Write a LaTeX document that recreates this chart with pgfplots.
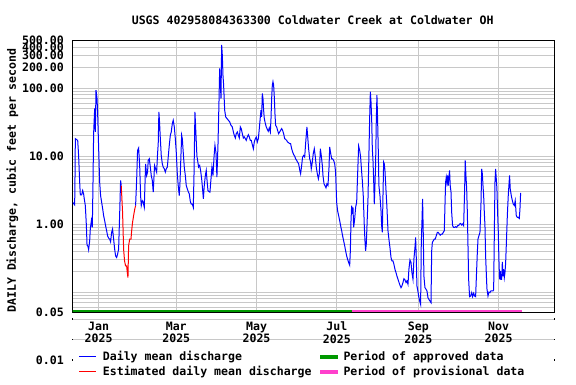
\documentclass[border=0pt]{standalone}
\usepackage{pgfplots}
\usepackage{pgfplotstable}
\pgfplotsset{compat=1.18}
\usepackage{fontspec}
\setmainfont{DejaVu Sans Mono}[BoldFont={DejaVu Sans Mono Bold}]
\setmonofont{DejaVu Sans Mono}[BoldFont={DejaVu Sans Mono Bold}]
\definecolor{gridgray}{RGB}{200,200,200}
\definecolor{appgreen}{RGB}{0,153,0}
\definecolor{provpink}{RGB}{255,64,204}
\definecolor{lineblue}{RGB}{0,0,255}
\definecolor{linered}{RGB}{255,0,0}
\newcommand{\f}{\fontsize{11.6}{12.7}\selectfont\bfseries}

\pgfplotstableread{
d v
-19.7 2.09
-18.2 1.91
-17.9 5.8
-17.7 18.0
-15.9 17.0
-15.2 10.2
-14.4 4.13
-13.9 2.68
-12.9 2.68
-12.1 3.11
-11.4 2.77
-10.9 2.34
-10.1 1.87
-9.3 0.945
-8.8 0.49
-8.1 0.47
-7.6 0.42
-6.8 0.567
-6.3 0.86
-5.5 1.12
-4.8 0.893
-4.3 3.68
-3.8 21.3
-3.0 50
-2.5 22.6
-2.0 93
-1.2 70
-0.7 39.8
0 13.6
0.8 4.13
1.5 2.62
2.3 2.09
3.1 1.67
3.8 1.33
4.6 1.12
5.3 0.945
6.1 0.797
6.8 0.673
7.6 0.621
8.4 0.600
9.1 0.548
9.9 0.753
10.6 0.844
11.4 0.600
12.2 0.427
12.9 0.340
13.7 0.322
14.4 0.360
15.2 0.427
16.0 1.41
16.7 4.37
17.2 3.68
}\blueone

\pgfplotstableread{
d v
17.2 3.68
17.7 2.34
18.2 1.49
19.0 0.427
19.7 0.287
20.5 0.242
21.3 0.242
21.8 0.193
22.3 0.163
22.8 0.479
23.6 0.600
24.6 0.600
25.1 0.797
25.8 1.06
26.6 1.33
27.4 1.63
28.1 1.87
}\redest

\pgfplotstableread{
d v
28.1 1.87
28.9 4.37
29.6 12.1
30.4 13.1
31.2 7.27
31.9 2.62
32.4 1.87
33.2 2.2
33.9 2.09
34.7 1.76
35.2 3.68
35.7 7.69
36.5 5.17
37.2 5.8
37.7 8.62
38.5 9.12
39.3 6.87
40.0 5.17
40.8 4.37
41.5 2.94
42.0 4.62
42.5 7.27
43.3 6.49
44.1 5.8
44.8 10.8
45.3 15.2
45.8 44.6
46.3 31.7
46.9 18.0
47.6 10.2
48.4 7.69
49.1 6.87
49.9 6.49
50.7 5.8
51.4 6.49
52.2 6.87
52.9 9.66
53.7 14.4
54.5 20.2
55.2 22.6
56.0 30.0
56.7 33.6
57.5 26.8
58.3 18.0
59.0 11.4
59.8 5.48
60.5 3.68
61.3 2.62
61.8 3.90
62.3 7.27
63.1 20.2
63.6 18.0
64.3 11.4
65.1 6.87
65.9 5.17
66.6 3.68
67.4 3.29
68.1 3.00
68.9 2.77
69.7 2.14
70.4 1.97
71.2 1.97
71.96 1.76
72.5 5.48
73.2 44.6
74.0 20.2
74.7 10.0
76.0 6.87
76.8 7.27
77.5 6.13
78.3 4.62
79.1 3.11
79.6 2.34
80.3 3.68
81.1 5.17
81.8 6.13
82.3 4.62
83.1 3.11
83.9 3.00
84.6 2.94
85.4 4.62
86.1 6.87
86.9 5.17
87.7 9.66
88.4 14.4
89.2 11.1
89.9 4.89
90.7 14.4
91.5 66.3
92.0 195
92.5 117
93.0 70.2
93.5 431
94.0 306
94.5 155
95.0 110
95.8 47.2
96.6 37.6
97.5 35.6
98.6 33.6
99.6 31.8
100.6 28.3
101.6 26.8
102.4 22.6
103.1 20.2
103.9 18.4
104.6 21.3
105.4 22.6
106.2 20.2
106.9 18.4
107.7 26.8
108.4 25.3
109.2 21.3
110.0 18.4
110.7 19.1
111.5 18.0
112.2 17.0
113.0 19.1
113.8 20.6
114.5 19.1
115.3 17.0
116.0 17.0
116.8 14.7
117.6 12.8
118.3 16.1
119.1 18.0
119.8 19.1
120.6 16.1
121.4 18.0
122.1 25.3
122.9 37.6
123.4 47.2
123.9 37.6
124.4 83.2
124.9 70.2
125.4 47.2
125.9 35.6
126.7 30.0
127.4 26.8
128.2 24.7
128.9 23.1
129.7 25.9
130.5 22.6
131.0 35.6
131.5 70.2
132.0 110
132.5 124
133.0 110
133.5 74.3
134.0 42.2
134.5 28.3
135.3 26.8
136.0 23.9
136.8 21.3
137.6 22.6
138.3 23.9
139.1 25.3
139.8 23.9
140.6 21.3
141.4 18.0
142.1 17.6
142.9 17.0
143.6 16.1
144.4 15.7
145.2 15.2
145.9 15.2
146.7 12.8
147.5 11.4
148.2 10.5
149.0 10.0
149.7 9.12
150.5 8.62
151.2 8.15
152.0 7.69
152.9 6.13
153.5 5.48
154.3 7.27
155.0 9.66
155.8 10.2
156.6 9.66
157.3 15.2
157.8 20.2
158.3 26.8
158.8 20.2
159.6 12.8
160.4 9.12
161.1 8.15
161.6 6.49
162.4 8.15
163.1 10.8
163.9 12.8
164.7 9.66
165.4 6.87
166.2 5.48
167.0 4.62
167.7 5.48
168.5 12.8
169.2 10.2
170.0 7.27
170.5 5.17
171.3 3.90
172.0 3.68
172.8 3.40
173.5 3.90
174.3 3.68
175.1 6.87
175.6 13.6
176.3 11.1
177.1 9.12
177.8 9.12
178.6 8.62
179.4 7.69
180.1 5.80
180.9 2.09
181.6 1.57
182.4 1.33
183.2 1.12
183.9 0.945
184.7 0.797
185.4 0.673
186.2 0.567
187.0 0.479
187.7 0.404
188.5 0.340
189.2 0.304
190.0 0.272
190.8 0.248
191.3 0.404
191.8 1.12
192.3 1.87
192.8 1.41
193.3 1.76
193.8 0.893
194.6 1.19
195.3 1.76
196.1 2.09
196.8 5.17
197.6 14.0
198.4 12.1
199.1 9.66
199.9 5.80
200.4 4.37
201.1 2.62
201.9 0.945
202.4 0.567
202.9 0.404
203.4 0.507
203.9 0.893
204.7 2.34
205.5 12.8
206.0 37.6
206.5 88.1
207.0 62.7
207.5 35.6
208.0 12.8
208.5 8.62
209.0 4.62
209.5 1.97
210.0 3.68
210.5 7.69
211.0 31.8
211.5 78.7
212.0 35.6
212.5 12.8
213.0 3.68
213.8 2.62
214.6 1.57
215.1 0.945
215.6 0.753
216.1 2.62
216.6 8.15
217.1 7.69
217.6 6.13
218.4 3.11
219.1 1.76
219.9 0.797
220.6 0.600
221.4 0.452
222.2 0.322
222.9 0.287
223.7 0.287
224.4 0.257
225.2 0.216
226.0 0.193
226.7 0.172
227.5 0.154
228.3 0.138
229.0 0.126
229.8 0.116
230.5 0.123
231.3 0.138
232.0 0.157
232.8 0.151
233.6 0.138
234.3 0.146
235.1 0.130
235.8 0.216
236.6 0.297
237.4 0.272
238.1 0.193
238.9 0.154
239.6 0.304
240.4 0.452
240.9 0.635
241.4 0.322
241.9 0.123
242.4 0.110
243.2 0.0874
244.0 0.0738
244.7 0.0658
245.2 0.507
245.7 1.06
246.2 2.34
246.7 0.753
247.2 0.172
248.0 0.116
248.8 0.110
249.5 0.104
250.3 0.0826
251.0 0.0780
251.8 0.0738
252.6 0.0697
253.1 0.40
253.6 0.536
254.3 0.567
255.1 0.600
255.8 0.600
256.6 0.673
257.4 0.753
258.1 0.753
258.9 0.712
259.6 0.688
260.4 0.712
261.2 0.712
261.9 0.753
262.7 0.797
263.2 1.87
263.7 4.12
264.2 4.89
264.7 4.12
265.2 5.17
265.7 3.68
266.2 4.89
266.7 6.13
267.2 3.68
267.8 2.94
268.3 1.49
269.0 0.945
269.8 0.893
270.5 0.893
271.3 0.913
272.1 0.893
272.8 0.945
273.6 0.945
274.3 1.00
275.1 1.02
275.9 0.966
276.6 1.00
277.4 0.945
278.1 2.94
278.6 8.62
279.2 4.89
279.7 3.29
280.2 1.49
280.7 0.479
281.2 0.154
281.9 0.0855
282.7 0.0874
283.5 0.098
284.2 0.0855
285.0 0.096
285.7 0.0874
286.5 0.0855
287.3 0.216
287.8 0.382
288.3 0.600
289.0 0.673
289.8 0.753
290.6 2.09
291.1 6.49
291.6 5.48
292.1 3.68
292.6 2.62
293.1 1.49
293.6 0.945
294.1 0.340
294.6 0.193
295.1 0.112
295.9 0.0874
296.6 0.100
297.4 0.098
298.1 0.104
298.9 0.104
299.7 0.104
300.2 0.107
300.7 0.673
301.2 4.12
301.7 6.49
302.2 4.62
302.7 3.29
303.2 1.49
303.7 0.797
304.2 0.304
304.7 0.154
305.2 0.205
305.7 0.154
306.3 0.154
306.8 0.278
307.3 0.172
307.8 0.216
308.3 0.163
308.8 0.193
309.3 0.265
309.8 0.479
310.6 1.33
311.3 2.62
311.8 3.68
312.3 5.17
312.8 3.29
313.6 2.62
314.4 2.21
315.1 1.97
315.9 1.87
316.6 2.21
317.4 1.33
318.2 1.25
318.9 1.25
319.7 1.21
320.2 1.67
320.7 2.87
}\bluetwo

\begin{document}
\begin{tikzpicture}[x=1bp,y=1bp]
\useasboundingbox (-72.3,-71.5) rectangle (503.7,312.5);
% faint extension lines below the axis (0.04 and 0.02 levels)
\draw[gridgray, line width=0.9bp] (0,-6.6) -- (482,-6.6);
\draw[gridgray, line width=0.9bp] (0,-27) -- (482,-27);
\begin{axis}[
  at={(0,0)}, anchor=south west, scale only axis,
  width=482bp, height=272bp,
  xmin=-20, xmax=346.3,
  ymode=log, ymin=0.05, ymax=500,
  xtick={0,59,120,181,243,304},
  xticklabels={Jan\\2025,Mar\\2025,May\\2025,Jul\\2025,Sep\\2025,Nov\\2025},
  xticklabel style={align=center, inner sep=0pt, anchor=north, yshift=-9.2bp, font=\f},
  ytick={0.05,1,10,100,200,300,400,500},
  yticklabels={0.05,1.00,10.00,100.00,200.00,300.00,400.00,500.00},
  yticklabel style={inner sep=0pt, anchor=east, xshift=-8.3bp, font=\f},
  minor ytick={0.06,0.07,0.08,0.09,0.1,0.2,0.3,0.4,0.5,0.6,0.7,0.8,0.9,2,3,4,5,6,7,8,9,20,30,40,50,60,70,80,90},
  minor xtick={},
  grid=both,
  major grid style={gridgray, line width=0.9bp},
  minor grid style={gridgray, line width=0.9bp},
  major tick length=0pt, minor tick length=0pt,
  axis line style={black, line width=1.4bp},
]
\addplot[lineblue, line width=1bp] table[x=d, y=v] {\blueone};
\addplot[linered, line width=1bp] table[x=d, y=v] {\redest};
\addplot[lineblue, line width=1bp] table[x=d, y=v] {\bluetwo};
\addplot[appgreen, line width=3.6bp] coordinates {(-20,0.052) (192.5,0.052)};
\addplot[provpink, line width=3.6bp] coordinates {(192.5,0.052) (321.7,0.052)};
\draw[black, line width=1.4bp] (rel axis cs:0,0) rectangle (rel axis cs:1,1);
\end{axis}
% tick dots below the axis
\foreach \yy in {-6.6,-27,-47.5} {
  \fill[black] (-0.8,\yy-0.7) rectangle (0.8,\yy+0.7);
  \fill[black] (481.2,\yy-0.7) rectangle (482.8,\yy+0.7);
}
\node[anchor=east, inner sep=0pt, font=\f] at (-8.3,-47.5) {0.01};
% title and y label
\node[anchor=base, inner sep=0pt, font=\f] at (240.4,288.5) {USGS 402958084363300 Coldwater Creek at Coldwater OH};
\node[rotate=90, anchor=base, inner sep=0pt, font=\f] at (-56.3,132) {DAILY Discharge, cubic feet per second};
% legend
\draw[lineblue, line width=1.2bp] (7,-44.2) -- (23.7,-44.2);
\node[anchor=base west, inner sep=0pt, font=\f] at (30.4,-48.2) {Daily mean discharge};
\draw[linered, line width=1.2bp] (7,-59.2) -- (23.7,-59.2);
\node[anchor=base west, inner sep=0pt, font=\f] at (30.4,-63.2) {Estimated daily mean discharge};
\draw[appgreen, line width=4bp] (247.7,-44.2) -- (265.4,-44.2);
\node[anchor=base west, inner sep=0pt, font=\f] at (271,-48.2) {Period of approved data};
\draw[provpink, line width=4bp] (247.7,-59.2) -- (265.4,-59.2);
\node[anchor=base west, inner sep=0pt, font=\f] at (271,-63.2) {Period of provisional data};
\end{tikzpicture}
\end{document}
